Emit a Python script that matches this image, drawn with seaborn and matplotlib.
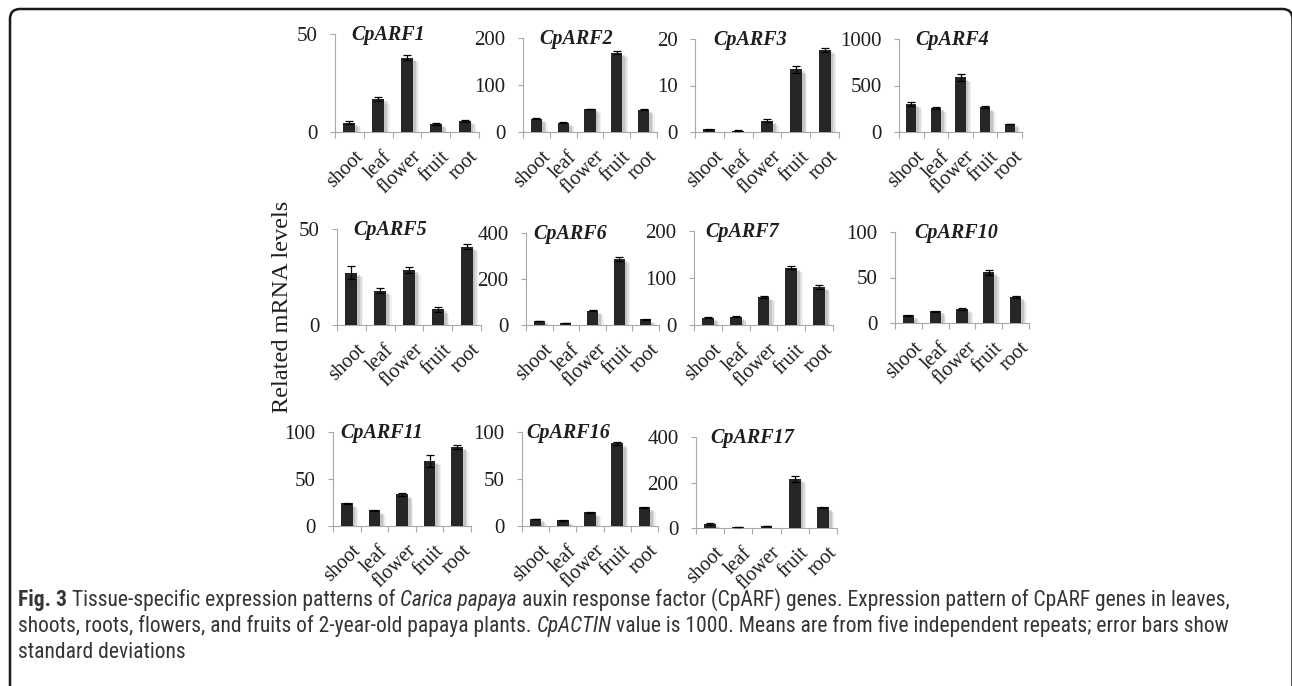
import numpy as np
import pandas as pd
import matplotlib
matplotlib.use("Agg")
import matplotlib.pyplot as plt
import seaborn as sns
from matplotlib import patheffects as pe
from matplotlib import font_manager as fm
from matplotlib.patches import FancyBboxPatch
from matplotlib.transforms import IdentityTransform, ScaledTranslation

# ---------------- data ----------------
tissues = ["shoot", "leaf", "flower", "fruit", "root"]

arf1 = [4.7, 16.8, 37.9, 4.2, 5.6]
arf1_sd = [0.8, 1.2, 1.4, 0.4, 0.3]
arf2 = [28.5, 20.0, 49.0, 169.0, 47.6]
arf2_sd = [1.0, 1.0, 1.0, 4.0, 1.0]
arf3 = [0.55, 0.3, 2.4, 13.5, 17.7]
arf3_sd = [0.1, 0.1, 0.3, 0.8, 0.4]
arf4 = [301, 258, 587, 265, 86]
arf4_sd = [25, 10, 42, 12, 5]
arf5 = [27.2, 17.9, 28.6, 8.2, 40.8]
arf5_sd = [3.5, 1.2, 1.4, 1.4, 1.2]
arf6 = [18, 8.5, 62, 287, 24.6]
arf6_sd = [1.5, 1.0, 2.0, 9.0, 1.5]
arf7 = [15.5, 17.7, 60, 122, 81]
arf7_sd = [1.0, 1.0, 2.0, 3.5, 5.0]
arf10 = [8.4, 13.1, 15.7, 55.8, 28.5]
arf10_sd = [0.5, 0.6, 1.0, 2.6, 0.8]
arf11 = [24.0, 16.6, 33.6, 69.3, 84.0]
arf11_sd = [0.6, 0.5, 1.5, 6.4, 2.5]
arf16 = [7.4, 6.0, 14.5, 88.0, 19.8]
arf16_sd = [0.4, 0.4, 0.6, 1.4, 0.6]
arf17 = [17.6, 4.4, 8.8, 216.8, 90.8]
arf17_sd = [3.0, 1.0, 1.0, 13.0, 3.0]

genes = ["CpARF1", "CpARF2", "CpARF3", "CpARF4", "CpARF5", "CpARF6",
         "CpARF7", "CpARF10", "CpARF11", "CpARF16", "CpARF17"]
means = [arf1, arf2, arf3, arf4, arf5, arf6, arf7, arf10, arf11, arf16, arf17]
sds = [arf1_sd, arf2_sd, arf3_sd, arf4_sd, arf5_sd, arf6_sd, arf7_sd,
       arf10_sd, arf11_sd, arf16_sd, arf17_sd]
ymax = [50, 200, 20, 1000, 50, 400, 200, 100, 100, 100, 400]
ytick_sets = [[0, 50], [0, 100, 200], [0, 10, 20], [0, 500, 1000],
              [0, 50], [0, 200, 400], [0, 100, 200], [0, 50, 100],
              [0, 50, 100], [0, 50, 100], [0, 200, 400]]

ylabel_text = "Related mRNA levels"
caption_lines = [
    [("Fig. 3", "bold"), ("Tissue-specific expression patterns of", "normal"),
     ("Carica papaya", "italic"),
     ("auxin response factor (CpARF) genes. Expression pattern of CpARF genes in leaves,", "normal")],
    [("shoots, roots, flowers, and fruits of 2-year-old papaya plants.", "normal"),
     ("CpACTIN", "italic"),
     ("value is 1000. Means are from five independent repeats; error bars show", "normal")],
    [("standard deviations", "normal")],
]

# ---------------- layout (pixels: left, right, top, zero-line) ----------------
W, H = 1292, 686
boxes = [(335, 479, 34, 132), (523, 657, 38, 132), (695, 839, 39, 132), (899, 1022, 39, 132),
         (337, 481, 229, 325), (526, 659, 233, 325), (694, 833, 231, 325), (895, 1029, 232, 323),
         (333, 471, 432, 526), (522, 658, 432, 526), (696, 837, 437, 528)]
title_x = [0.37, 0.40, 0.38, 0.43, 0.37, 0.33, 0.35, 0.46, 0.35, 0.34, 0.40]

sns.set_style("white")
plt.rcParams["font.family"] = ["Liberation Serif", "DejaVu Serif"]

fig = plt.figure(figsize=(W / 100, H / 100), dpi=100)
fig.patch.set_facecolor("white")

axis_gray = "#a9a9a9"
bar_color = "#262626"
text_color = "#1e1e1e"

shadow = [pe.SimplePatchShadow(offset=(o, -o * 0.8), shadow_rgbFace="#6f6f6f", alpha=a)
          for o, a in [(4.0, 0.10), (3.0, 0.15), (2.0, 0.22)]] + [pe.Normal()]

for i, g in enumerate(genes):
    l, r, t, z = boxes[i]
    ax = fig.add_axes([l / W, 1 - z / H, (r - l) / W, (z - t) / H])
    df = pd.DataFrame({"tissue": tissues, "value": means[i]})
    sns.barplot(data=df, x="tissue", y="value", order=tissues, color=bar_color,
                saturation=1, width=0.42, errorbar=None, ax=ax, zorder=3)
    for p in ax.patches:
        p.set_path_effects(shadow)
        p.set_edgecolor("none")
    ax.errorbar(np.arange(len(tissues)), means[i], yerr=sds[i], fmt="none",
                ecolor="black", elinewidth=0.9, capsize=3, capthick=0.9, zorder=4)
    ax.set_xlim(-0.5, len(tissues) - 0.5)
    ax.set_ylim(0, ymax[i])
    ax.set_yticks(ytick_sets[i])
    ax.set_yticklabels([str(v) for v in ytick_sets[i]], fontsize=15, color=text_color)
    ax.set_xticks(np.arange(len(tissues)))
    ax.set_xticklabels(tissues, rotation=45, ha="right", va="top",
                       rotation_mode="anchor", fontsize=14.5, color=text_color)
    ax.set_xticks(np.arange(len(tissues) + 1) - 0.5, minor=True)
    ax.tick_params(axis="x", which="major", length=0, pad=11)
    ax.tick_params(axis="x", which="minor", length=4.5, width=0.8, color=axis_gray,
                   direction="out", bottom=True)
    ax.tick_params(axis="y", which="major", length=3.5, width=0.8, color=axis_gray,
                   direction="out", pad=9, left=True)
    off = ScaledTranslation(3 / 72, 0, fig.dpi_scale_trans)
    for lab in ax.get_xticklabels():
        lab.set_transform(lab.get_transform() + off)
    for s in ["top", "right"]:
        ax.spines[s].set_visible(False)
    for s in ["left", "bottom"]:
        ax.spines[s].set_color(axis_gray)
        ax.spines[s].set_linewidth(0.8)
    ax.set_xlabel("")
    ax.set_ylabel("")
    ax.set_facecolor("none")
    ax.grid(False)
    ax.text(title_x[i], 0.99, g, transform=ax.transAxes, ha="center", va="center",
            fontsize=14.5, fontweight="bold", fontstyle="italic", color=text_color,
            zorder=6)

fig.text(283 / W, 1 - 307 / H, ylabel_text, rotation=90, ha="center", va="center",
         fontsize=17.5, color=text_color)

# ---------------- caption ----------------
avail = {f.name for f in fm.fontManager.ttflist}
cap_font = "DejaVu Sans"
for cand in ["Liberation Sans Narrow", "Roboto Condensed", "Open Sans Condensed",
             "Noto Sans Condensed", "Roboto", "Lato", "Open Sans", "Noto Sans"]:
    if cand in avail:
        cap_font = cand
        break

renderer = fig.canvas.get_renderer()


def seg_props(style, size):
    d = dict(family=cap_font, fontsize=size, color="#353535")
    if style == "bold":
        d["fontweight"] = "bold"
    if style == "italic":
        d["fontstyle"] = "italic"
    return d


def measure(s, style, size):
    t = fig.text(0, 0, s, **seg_props(style, size))
    w = t.get_window_extent(renderer).width
    t.remove()
    return w


def line_width(line, size):
    sp = measure("a a", "normal", size) - measure("aa", "normal", size)
    return sum(measure(s, st, size) for s, st in line) + sp * (len(line) - 1), sp


base = 10.0
w10, _ = line_width(caption_lines[0], base)
cap_size = base * (1225 - 18) / w10
baselines = [606, 632, 658]
for line, yb in zip(caption_lines, baselines):
    _, sp = line_width(line, cap_size)
    x = 18.0
    for s, st in line:
        fig.text(x / W, 1 - yb / H, s, ha="left", va="baseline", **seg_props(st, cap_size))
        x += measure(s, st, cap_size) + sp

# ---------------- frame ----------------
frame = FancyBboxPatch((10, -30), 1292.5 - 10, (H - 9) + 30,
                       boxstyle="round,pad=0,rounding_size=10",
                       transform=IdentityTransform(), fill=False,
                       edgecolor="#1a1a1a", linewidth=1.8)
fig.patches.append(frame)

fig.savefig("out.png", dpi=100, facecolor="white")
